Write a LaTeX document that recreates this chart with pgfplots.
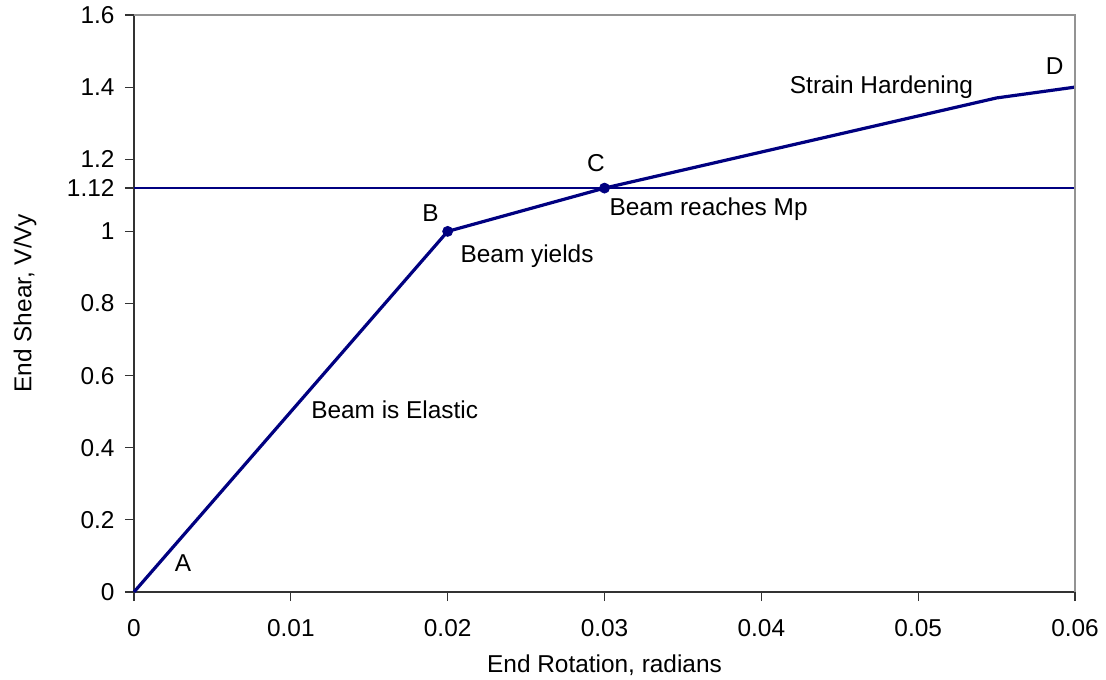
\documentclass[border=0pt]{standalone}
\usepackage{pgfplots}
\pgfplotsset{compat=1.18}
\usepackage{fontspec}
\setmainfont{Liberation Sans}
\definecolor{curve}{HTML}{000080}
\begin{document}
\fontsize{12.2}{14}\selectfont
\begin{tikzpicture}
\begin{axis}[
  scale only axis,
  width=470.5pt, height=288.5pt,
  xmin=0, xmax=0.06, ymin=0, ymax=1.6,
  axis x line*=bottom, axis y line*=left,
  axis line style={black!80, line width=0.6pt},
  scaled x ticks=false, scaled y ticks=false,
  xtick={0,0.01,0.02,0.03,0.04,0.05,0.06},
  xticklabels={0,0.01,0.02,0.03,0.04,0.05,0.06},
  ytick={0,0.2,0.4,0.6,0.8,1,1.12,1.2,1.4,1.6},
  yticklabels={0,0.2,0.4,0.6,0.8,1,1.12,1.2,1.4,1.6},
  tick align=outside, major tick length=4.5pt,
  tick style={black!80, line width=0.6pt},
  /pgf/number format/assume math mode=true,
  ticklabel style={font=\fontsize{12.2}{14}\selectfont},
  xticklabel style={yshift=-5pt},
  yticklabel style={xshift=-1pt},
  xlabel={End Rotation, radians},
  ylabel={End Shear, V/Vy},
  label style={font=\fontsize{12.2}{14}\selectfont},
  xlabel style={at={(axis description cs:0.5,-0.1265)}, anchor=center},
  ylabel style={at={(axis description cs:-0.1158,0.5)}, anchor=center, rotate=0},
  clip=false,
]
% plastic moment level
\addplot[curve, line width=1.3pt] coordinates {(0,1.12) (0.06,1.12)};
% end shear vs. end rotation
\addplot[curve, line width=1.6pt, line join=round] coordinates {
  (0,0) (0.02,1.0) (0.03,1.12) (0.055,1.37) (0.06,1.4)};
\addplot[curve, only marks, mark=*, mark size=2.5pt] coordinates {
  (0.02,1.0) (0.03,1.12)};
\draw[gray!85, line width=0.6pt] (rel axis cs:0,1) -- (rel axis cs:1,1) -- (rel axis cs:1,0);
\node at (axis cs:0.00312,0.080) {A};
\node[anchor=west, inner sep=0pt] at (axis cs:0.01128,0.505) {Beam is Elastic};
\node at (axis cs:0.0189,1.051) {B};
\node[anchor=west, inner sep=0pt] at (axis cs:0.0208,0.932) {Beam yields};
\node at (axis cs:0.02946,1.19) {C};
\node[anchor=west, inner sep=0pt] at (axis cs:0.0303,1.062) {Beam reaches Mp};
\node[anchor=west, inner sep=0pt] at (axis cs:0.0418,1.400) {Strain Hardening};
\node at (axis cs:0.0587,1.459) {D};
\end{axis}
\pgfresetboundingbox
\path (current axis.south west) +(-67pt,-43.5pt) (current axis.north east) +(15.5pt,7.5pt);
\end{tikzpicture}
\end{document}
